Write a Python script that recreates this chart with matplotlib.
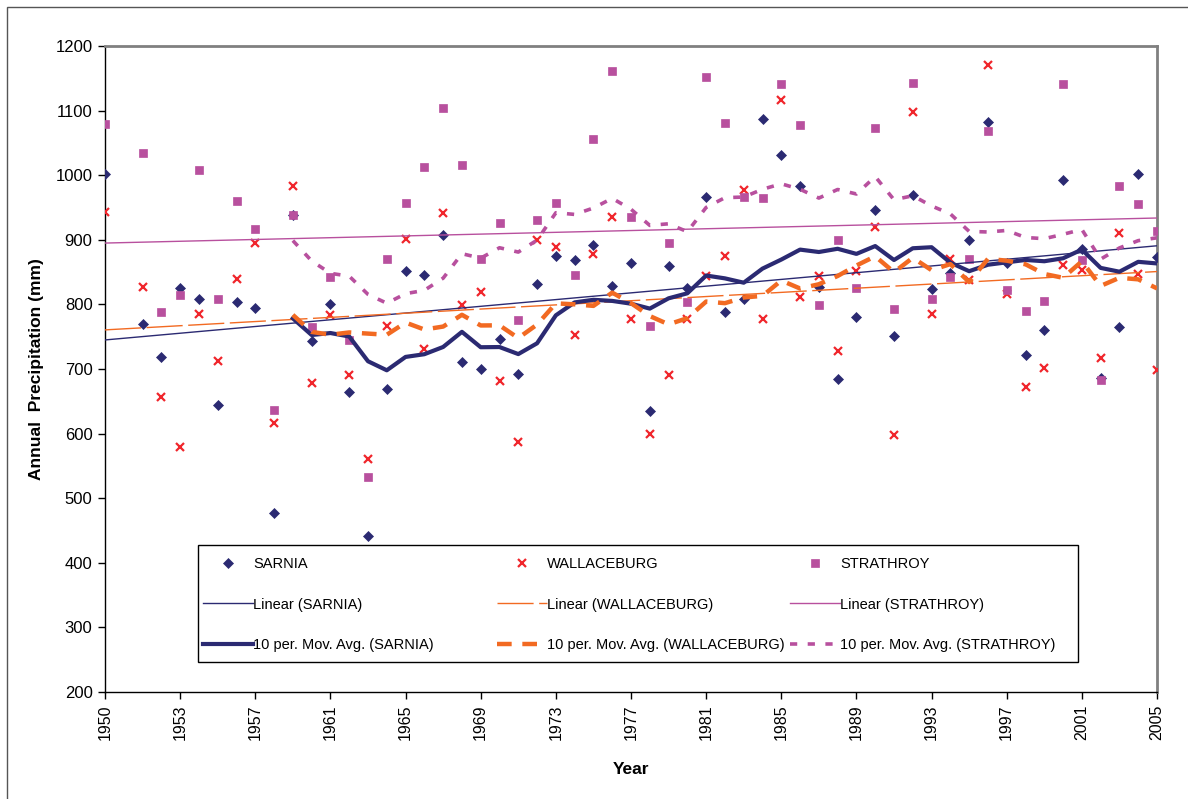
import numpy as np
import pandas as pd
import matplotlib
matplotlib.use('Agg')
import matplotlib.pyplot as plt
from matplotlib.patches import Rectangle
from matplotlib.legend import Legend

plt.rcParams['font.family'] = ['Liberation Sans', 'DejaVu Sans']

# annual precipitation (mm), one slot per category on the axis; nan = no record
sarnia = [1002, np.nan, 770, 719, 825, 809, 645, 804, 795, 477,
          938, 744, 801, 665, 442, 669, 852, 846, 907, 711,
          700, 747, 692, 832, 875, 869, 892, 829, 864, 635,
          859, 825, 967, 788, 808, 1087, 1032, 983, 827, 685,
          780, 946, 751, 970, 824, 849, 899, 1083, 864, 722,
          760, 992, 886, 686, 765, 1002, 874]
wallaceburg = [943, np.nan, 827, 656, 579, 785, 713, 839, 895, 617,
               984, 679, 784, 691, 561, 767, 902, 731, 941, 799,
               819, 681, 587, 900, 889, 752, 878, 936, 778, 600,
               690, 777, 844, 875, 977, 777, 1116, 812, 844, 728,
               852, 920, 598, 1098, 785, 871, 838, 1171, 816, 672,
               702, 861, 853, 717, 911, 847, 698]
strathroy = [1080, np.nan, 1035, 789, 815, 1008, 809, 960, 916, 637,
             939, 765, 843, 745, 533, 871, 957, 1012, 1104, 1016,
             870, 926, 776, 930, 957, 845, 1056, 1162, 935, 766,
             895, 803, 1152, 1081, 967, 965, 1141, 1077, 799, 899,
             825, 1073, 793, 1143, 809, 842, 870, 1068, 823, 790,
             806, 1141, 868, 683, 983, 955, 914]

tick_labels = ['1950', '1953', '1957', '1961', '1965', '1969', '1973', '1977',
               '1981', '1985', '1989', '1993', '1997', '2001', '2005']
stations = ['SARNIA', 'WALLACEBURG', 'STRATHROY']

NAVY = '#2b2a72'
RED = '#f0262c'
ORANGE = '#f26a22'
MAGENTA = '#b8509e'

W, H = 1188, 799
fig = plt.figure(figsize=(W / 100, H / 100), dpi=100)
ax = fig.add_axes([105 / W, (H - 692) / H, 1052 / W, 646 / H])

x = np.arange(len(sarnia))


def moving_avg(vals, n=10):
    s = pd.Series(vals, index=x).dropna()
    return s.rolling(n).mean().dropna()


def linear(vals):
    s = pd.Series(vals, index=x).dropna()
    k, b = np.polyfit(s.index.values, s.values, 1)
    return k * x + b


def px2ax(px, py):
    return (px - 105) / 1052, (692 - py) / 646


series = [(sarnia, NAVY, 'D', NAVY, None, None),
          (wallaceburg, RED, 'x', ORANGE, (26, 4), (3.3, 2.4)),
          (strathroy, MAGENTA, 's', MAGENTA, None, (2.0, 2.9))]

groups = []
for (vals, mcol, mk, lcol, lin_dash, ma_dash), name in zip(series, stations):
    ms = 5 if mk == 'D' else 6
    pts, = ax.plot(x, vals, linestyle='none', marker=mk, color=mcol, ms=ms,
                   mew=1.6 if mk == 'x' else 0.5, zorder=3, label=name)

    lin, = ax.plot(x, linear(vals), color=lcol, lw=1, zorder=4,
                   label='Linear ({})'.format(name))
    if lin_dash is not None:
        lin.set_dashes(lin_dash)

    ma = moving_avg(vals)
    if ma_dash is None:
        mav, = ax.plot(ma.index, ma.values, color=lcol, lw=3, zorder=5,
                       label='10 per. Mov. Avg. ({})'.format(name))
    else:
        lw = 3.2 if mk == 'x' else 2.6
        mav, = ax.plot(ma.index, ma.values, color=lcol, lw=lw, zorder=5,
                       dashes=ma_dash, dash_capstyle='butt',
                       label='10 per. Mov. Avg. ({})'.format(name))
    groups.append([pts, lin, mav])

ax.set_xlim(0, len(sarnia) - 1)
ax.set_ylim(200, 1200)
ax.set_yticks(np.arange(200, 1201, 100))
ax.set_xticks(np.arange(0, len(sarnia), 4))
ax.set_xticklabels(tick_labels, rotation=90)
ax.tick_params(length=5, width=1, color='black', pad=4)
ax.tick_params(axis='y', labelsize=12)
ax.tick_params(axis='x', labelsize=11.5)

for side in ['left', 'bottom']:
    ax.spines[side].set_color('black')
    ax.spines[side].set_linewidth(1)
for side in ['top', 'right']:
    ax.spines[side].set_color('#808080')
    ax.spines[side].set_linewidth(2)

ax.set_ylabel('Annual  Precipitation (mm)', fontsize=12.5, fontweight='bold')
ax.yaxis.set_label_coords((44 - 105) / 1052, 0.5)
ax.set_xlabel('Year', fontsize=12.5, fontweight='bold')
ax.xaxis.set_label_coords(0.5, (692 - 762) / 646)

# legend box with three equal-width columns, one per station
x0, y0 = px2ax(198, 662)
x1, y1 = px2ax(1078, 545)
ax.add_patch(Rectangle((x0, y0), x1 - x0, y1 - y0, transform=ax.transAxes,
                       facecolor='white', edgecolor='black', lw=1,
                       zorder=9, clip_on=False))
for col_px, hs in zip([203, 497, 790], groups):
    leg = Legend(ax, hs, [h.get_label() for h in hs], loc='upper left',
                 bbox_to_anchor=px2ax(col_px, 557), borderaxespad=0,
                 borderpad=0, fontsize=10.5, handlelength=3.4,
                 handletextpad=0.05, labelspacing=1.82,
                 frameon=False, numpoints=1)
    leg.set_zorder(10)
    ax.add_artist(leg)

# outer frame of the chart area
fig.patches.append(Rectangle((7 / W, -0.05), 1.2, (H - 7) / H + 0.05,
                             transform=fig.transFigure, fill=False,
                             edgecolor='#555555', lw=1))

fig.savefig('out.png', dpi=100)
